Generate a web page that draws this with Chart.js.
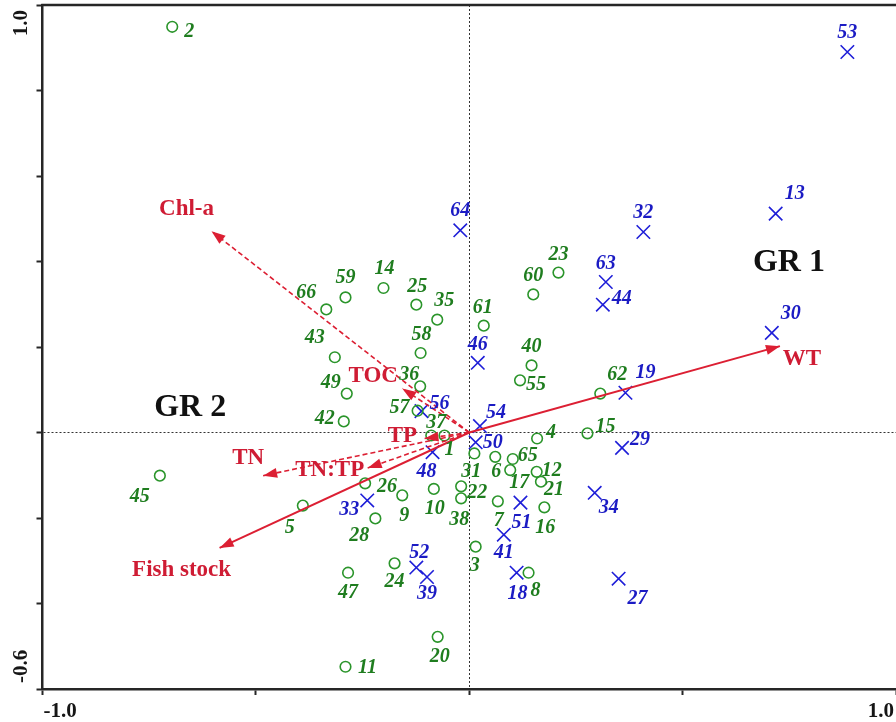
<!DOCTYPE html>
<html><head><meta charset="utf-8">
<script src="https://cdn.jsdelivr.net/npm/chart.js@4.4.1/dist/chart.umd.min.js"></script>
<style>html,body{margin:0;padding:0;background:#fff;}canvas{display:block;}</style>
</head><body>
<canvas id="c" width="896" height="722"></canvas>
<script>
// ---- Data ----
const gr2Sites = [1,2,3,4,5,6,7,8,9,10,11,12,14,15,16,17,20,21,22,23,24,25,26,28,31,35,36,37,38,40,42,43,45,47,49,55,57,58,59,60,61,62,65,66];
const gr2X = [-0.058,-0.696,0.015,0.159,-0.390,0.061,0.067,0.139,-0.157,-0.083,-0.290,0.158,-0.201,0.277,0.176,0.096,-0.074,0.168,-0.019,0.209,-0.175,-0.124,-0.244,-0.220,0.012,-0.075,-0.115,-0.089,-0.019,0.146,-0.294,-0.315,-0.725,-0.284,-0.287,0.119,-0.121,-0.114,-0.290,0.150,0.034,0.307,0.102,-0.335];
const gr2Y = [-0.007,0.949,-0.267,-0.014,-0.171,-0.057,-0.161,-0.328,-0.147,-0.132,-0.548,-0.092,0.338,-0.002,-0.175,-0.088,-0.478,-0.115,-0.126,0.374,-0.306,0.299,-0.119,-0.201,-0.049,0.264,0.108,-0.007,-0.154,0.157,0.026,0.176,-0.101,-0.328,0.091,0.122,0.051,0.186,0.316,0.323,0.250,0.091,-0.062,0.288];

const gr1Sites = [13,18,19,27,29,30,32,33,34,39,41,44,46,48,50,51,52,53,54,56,63,64];
const gr1X = [0.718,0.111,0.366,0.350,0.358,0.709,0.408,-0.239,0.294,-0.099,0.081,0.313,0.020,-0.086,0.015,0.120,-0.124,0.886,0.025,-0.112,0.320,-0.021];
const gr1Y = [0.512,-0.328,0.093,-0.342,-0.036,0.233,0.469,-0.159,-0.141,-0.338,-0.239,0.299,0.163,-0.046,-0.023,-0.164,-0.316,0.890,0.015,0.050,0.352,0.473];

const envVars = ['WT','Fish stock','Chl-a','TOC','TN','TN:TP','TP'];
const envX = [0.728,-0.585,-0.604,-0.157,-0.483,-0.238,-0.105];
const envY = [0.202,-0.270,0.471,0.103,-0.101,-0.083,-0.014];

const groupNames = ['GR 1','GR 2'];
const groupX = [0.749,-0.654];
const groupY = [0.398,0.058];

const xTickValues = [-1.0, 1.0];
const xTickLabels = ['-1.0','1.0'];
const yTickValues = [1.0, -0.6];
const yTickLabels = ['1.0','-0.6'];

// ---- Layout / style (kept separate from data) ----
const labelOffsets = {
  1:[5,14],2:[17,5],3:[-1,19],4:[14,-6],5:[-13,22],6:[1,15],7:[1,20],8:[7,18],9:[2,20],10:[1,20],
  11:[22,1],12:[15,-1],14:[1,-19],15:[18,-7],16:[1,21],17:[9,13],20:[2,20],21:[13,8],22:[16,6],
  23:[0,-18],24:[0,19],25:[1,-18],26:[22,3],28:[-16,17],31:[-3,18],35:[7,-19],36:[-11,-12],
  37:[5,-13],38:[-2,21],40:[0,-19],42:[-19,-3],43:[-20,-19],45:[-20,21],47:[0,20],49:[-16,-11],
  55:[16,4],57:[-18,-3],58:[1,-18],59:[0,-20],60:[0,-19],61:[-1,-18],62:[17,-19],65:[15,-3],66:[-20,-17],
  13:[19,-20],18:[1,21],19:[20,-20],27:[19,20],29:[18,-8],30:[19,-19],32:[0,-19],33:[-18,9],
  34:[14,15],39:[0,17],41:[0,18],44:[19,-6],46:[0,-18],48:[-6,20],50:[17,0],51:[1,20],52:[3,-15],
  53:[0,-19],54:[16,-13],56:[18,-7],63:[0,-18],64:[0,-19]
};
const envLabelOffsets = {'WT':[22,13],'Fish stock':[-38,22],'Chl-a':[-25,-22],'TOC':[-29,-12],'TN':[-15,-18],'TN:TP':[-38,2],'TP':[-22,-2]};
const envSolid = {'WT':true,'Fish stock':true};

const RED = '#dc1f33', RED_TXT = '#cf1c34';
const GREEN = '#2b952b', GREEN_TXT = '#1f7d1f';
const BLUE = '#1e1ed8', BLUE_TXT = '#1b1bc4';
const AXIS = '#262626';
const SERIF = '"Liberation Serif","Times New Roman",serif';

const isZero = v => Math.abs(v) < 1e-9;

const envDatasets = envVars.map((name, i) => ({
  label: name,
  data: [{x:0,y:0},{x:envX[i],y:envY[i]}],
  showLine: true,
  pointRadius: 0,
  borderColor: RED,
  borderWidth: envSolid[name] ? 2 : 1.6,
  borderDash: envSolid[name] ? [] : [5,3],
  fill: false,
  isEnv: true
}));

const gr2Dataset = {
  label: 'GR 2',
  data: gr2X.map((x,i)=>({x:x,y:gr2Y[i]})),
  pointStyle: 'circle', pointRadius: 5.3, borderWidth: 1.6,
  borderColor: GREEN, backgroundColor: 'rgba(0,0,0,0)',
  sites: gr2Sites, labelColor: GREEN_TXT
};
const gr1Dataset = {
  label: 'GR 1',
  data: gr1X.map((x,i)=>({x:x,y:gr1Y[i]})),
  pointStyle: 'crossRot', pointRadius: 9.5, borderWidth: 1.6,
  borderColor: BLUE, backgroundColor: BLUE,
  sites: gr1Sites, labelColor: BLUE_TXT
};

const overlay = {
  id: 'overlay',
  afterDraw(chart) {
    const c = chart.ctx, a = chart.chartArea;
    const xs = chart.scales.x, ys = chart.scales.y;
    c.save();
    // top frame line
    c.strokeStyle = AXIS; c.lineWidth = 2.5;
    c.beginPath(); c.moveTo(a.left - 1.25, a.top); c.lineTo(chart.width, a.top); c.stroke();

    // arrow heads + env labels
    chart.data.datasets.forEach((ds, di) => {
      if (!ds.isEnv) return;
      const m = chart.getDatasetMeta(di);
      const p0 = m.data[0], p1 = m.data[1];
      const ang = Math.atan2(p1.y - p0.y, p1.x - p0.x);
      const L = 14, W = 5;
      c.fillStyle = RED;
      c.beginPath();
      c.moveTo(p1.x, p1.y);
      c.lineTo(p1.x - L*Math.cos(ang) + W*Math.sin(ang), p1.y - L*Math.sin(ang) - W*Math.cos(ang));
      c.lineTo(p1.x - L*Math.cos(ang) - W*Math.sin(ang), p1.y - L*Math.sin(ang) + W*Math.cos(ang));
      c.closePath(); c.fill();
      const off = envLabelOffsets[ds.label] || [0,-15];
      c.font = 'bold 23px ' + SERIF;
      c.fillStyle = RED_TXT; c.textAlign = 'center'; c.textBaseline = 'middle';
      c.fillText(ds.label, p1.x + off[0], p1.y + off[1]);
    });

    // site labels
    chart.data.datasets.forEach((ds, di) => {
      if (!ds.sites) return;
      const m = chart.getDatasetMeta(di);
      c.font = 'italic bold 20px ' + SERIF;
      c.fillStyle = ds.labelColor; c.textAlign = 'center'; c.textBaseline = 'middle';
      m.data.forEach((el, j) => {
        const s = ds.sites[j];
        const off = labelOffsets[s] || [0,-18];
        c.fillText(String(s), el.x + off[0], el.y + off[1]);
      });
    });

    // group labels
    c.font = 'bold 32px ' + SERIF;
    c.fillStyle = '#111'; c.textAlign = 'center'; c.textBaseline = 'middle';
    groupNames.forEach((g, i) => {
      c.fillText(g, xs.getPixelForValue(groupX[i]), ys.getPixelForValue(groupY[i]));
    });

    // tick labels
    c.font = 'bold 21px ' + SERIF;
    c.fillStyle = '#161616';
    c.textBaseline = 'middle';
    xTickValues.forEach((v, i) => {
      let px = xs.getPixelForValue(v);
      if (v === xs.min) { c.textAlign = 'left'; px = px + 1; }
      else if (v === xs.max) { c.textAlign = 'right'; px = Math.min(px, chart.width) - 2; }
      else c.textAlign = 'center';
      c.fillText(xTickLabels[i], px, a.bottom + 23);
    });
    yTickValues.forEach((v, i) => {
      let py = ys.getPixelForValue(v);
      c.save();
      c.translate(22, 0);
      c.rotate(-Math.PI/2);
      if (v === ys.max) { c.textAlign = 'right'; py = py + 5; }
      else if (v === ys.min) { c.textAlign = 'left'; py = py - 6; }
      else c.textAlign = 'center';
      c.fillText(yTickLabels[i], -py, 0);
      c.restore();
    });
    c.restore();
  }
};

const gridOpts = {
  drawOnChartArea: true,
  color: ctx => (ctx.tick && isZero(ctx.tick.value)) ? '#333' : 'rgba(0,0,0,0)',
  lineWidth: 1,
  drawTicks: true,
  tickLength: 6,
  tickColor: AXIS,
  tickWidth: 2
};

new Chart(document.getElementById('c').getContext('2d'), {
  type: 'scatter',
  data: { datasets: [...envDatasets, gr2Dataset, gr1Dataset] },
  options: {
    responsive: false,
    animation: false,
    devicePixelRatio: 1,
    layout: { autoPadding: false, padding: { top: 5, right: -1.5, left: 0, bottom: 0 } },
    plugins: { legend: { display: false }, tooltip: { enabled: false } },
    elements: { line: { tension: 0 } },
    scales: {
      x: {
        type: 'linear', min: -1, max: 1,
        ticks: { display: false, stepSize: 0.5 },
        grid: gridOpts,
        border: { display: true, color: AXIS, width: 2.5, dash: [2,2] },
        afterFit: s => { s.height = 33; }
      },
      y: {
        type: 'linear', min: -0.6, max: 1,
        ticks: { display: false, stepSize: 0.2 },
        grid: gridOpts,
        border: { display: true, color: AXIS, width: 2.5, dash: [2,2] },
        afterFit: s => { s.width = 42.5; }
      }
    }
  },
  plugins: [overlay]
});
</script>
</body></html>
